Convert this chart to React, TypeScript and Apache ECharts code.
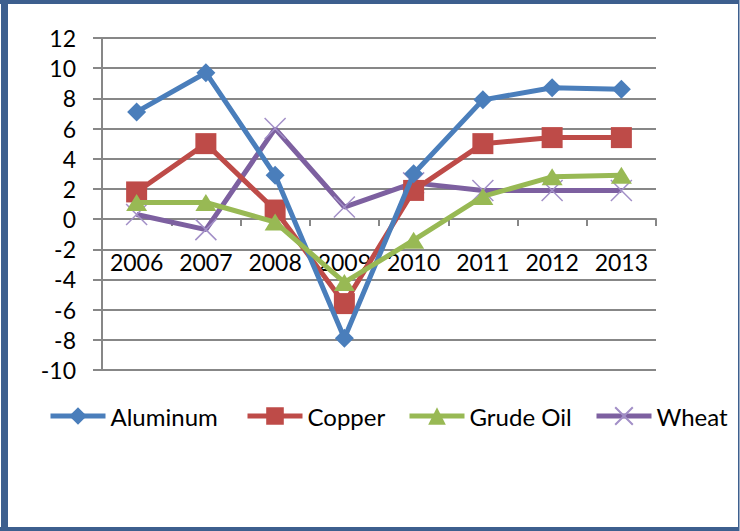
import React, { useEffect, useRef } from "react";
import * as echarts from "echarts";

const categories = ["2006", "2007", "2008", "2009", "2010", "2011", "2012", "2013"];
const aluminum = [7.1, 9.7, 2.9, -7.9, 3.0, 7.9, 8.7, 8.6];
const copper = [1.8, 5.0, 0.6, -5.6, 1.9, 5.0, 5.4, 5.4];
const crudeOil = [1.1, 1.1, -0.2, -4.2, -1.4, 1.5, 2.8, 2.9];
const wheat = [0.3, -0.7, 6.0, 0.8, 2.4, 1.9, 1.9, 1.9];
const seriesNames = ["Aluminum", "Copper", "Grude Oil", "Wheat"];

const FONT = "Lato";
const frameColor = "#3D5F8E";

export default function App() {
  const ref = useRef<HTMLDivElement>(null);
  useEffect(() => {
    document.body.style.margin = "0";
    const chart = echarts.init(ref.current!, undefined, { renderer: "svg" });
    const legendBase = {
      top: 404,
      padding: 0,
      itemWidth: 55,
      itemHeight: 22,
      lineStyle: { width: 5 },
      textStyle: { fontFamily: FONT, fontSize: 24, color: "#000" },
    };
    chart.setOption({
      animation: false,
      backgroundColor: "#fff",
      grid: { left: 102, right: 84, top: 38, bottom: 161, containLabel: false },
      legend: [
        { ...legendBase, left: 48, data: [seriesNames[0]] },
        { ...legendBase, left: 245, data: [seriesNames[1]] },
        { ...legendBase, left: 407, data: [seriesNames[2]] },
        { ...legendBase, left: 594, data: [seriesNames[3]] },
      ],
      xAxis: {
        type: "category",
        data: categories,
        boundaryGap: true,
        axisLine: { onZero: true, lineStyle: { color: "#878787", width: 2 } },
        axisTick: { show: true, length: 7, lineStyle: { color: "#878787", width: 2 } },
        axisLabel: { interval: 0, margin: -120, fontFamily: FONT, fontSize: 23, color: "#000" },
        splitLine: { show: false },
      },
      yAxis: {
        type: "value",
        min: -10,
        max: 12,
        interval: 2,
        axisLine: { show: true, lineStyle: { color: "#878787", width: 2 } },
        axisTick: { show: true, length: 9, lineStyle: { color: "#878787", width: 2 } },
        axisLabel: { margin: 26, fontFamily: FONT, fontSize: 23, color: "#000" },
        splitLine: { show: true, lineStyle: { color: "#878787", width: 2 } },
      },
      graphic: [
        { type: "rect", shape: { x: 0, y: 0, width: 739, height: 4 }, style: { fill: frameColor }, z: 100 },
        { type: "rect", shape: { x: 1, y: 0, width: 7, height: 531 }, style: { fill: frameColor }, z: 100 },
        { type: "rect", shape: { x: 0, y: 527, width: 739, height: 4 }, style: { fill: frameColor }, z: 100 },
        { type: "rect", shape: { x: 738, y: 0, width: 1.5, height: 531 }, style: { fill: frameColor }, z: 100 },
      ],
      series: [
        {
          name: seriesNames[0],
          type: "line",
          data: aluminum,
          symbol: "diamond",
          symbolSize: 19,
          lineStyle: { color: "#4A7EBB", width: 5 },
          itemStyle: { color: "#4A7EBB" },
          z: 5,
        },
        {
          name: seriesNames[1],
          type: "line",
          data: copper,
          symbol: "rect",
          symbolSize: 21,
          lineStyle: { color: "#BE4B48", width: 5 },
          itemStyle: { color: "#BE4B48" },
          z: 4,
        },
        {
          name: seriesNames[2],
          type: "line",
          data: crudeOil,
          symbol: "triangle",
          symbolSize: [21, 17],
          lineStyle: { color: "#98B954", width: 5 },
          itemStyle: { color: "#98B954" },
          z: 6,
        },
        {
          name: seriesNames[3],
          type: "line",
          data: wheat,
          symbol: "path://M0,0L10,10M10,0L0,10",
          symbolSize: 21,
          lineStyle: { color: "#7D60A0", width: 5 },
          itemStyle: { color: "rgba(0,0,0,0)", borderColor: "#A28FC7", borderWidth: 1.5 },
          z: 3,
        },
      ],
    });
    return () => chart.dispose();
  }, []);
  return (
    <div
      ref={ref}
      style={{ position: "fixed", left: 0, top: 0, width: 740, height: 531 }}
    />
  );
}
